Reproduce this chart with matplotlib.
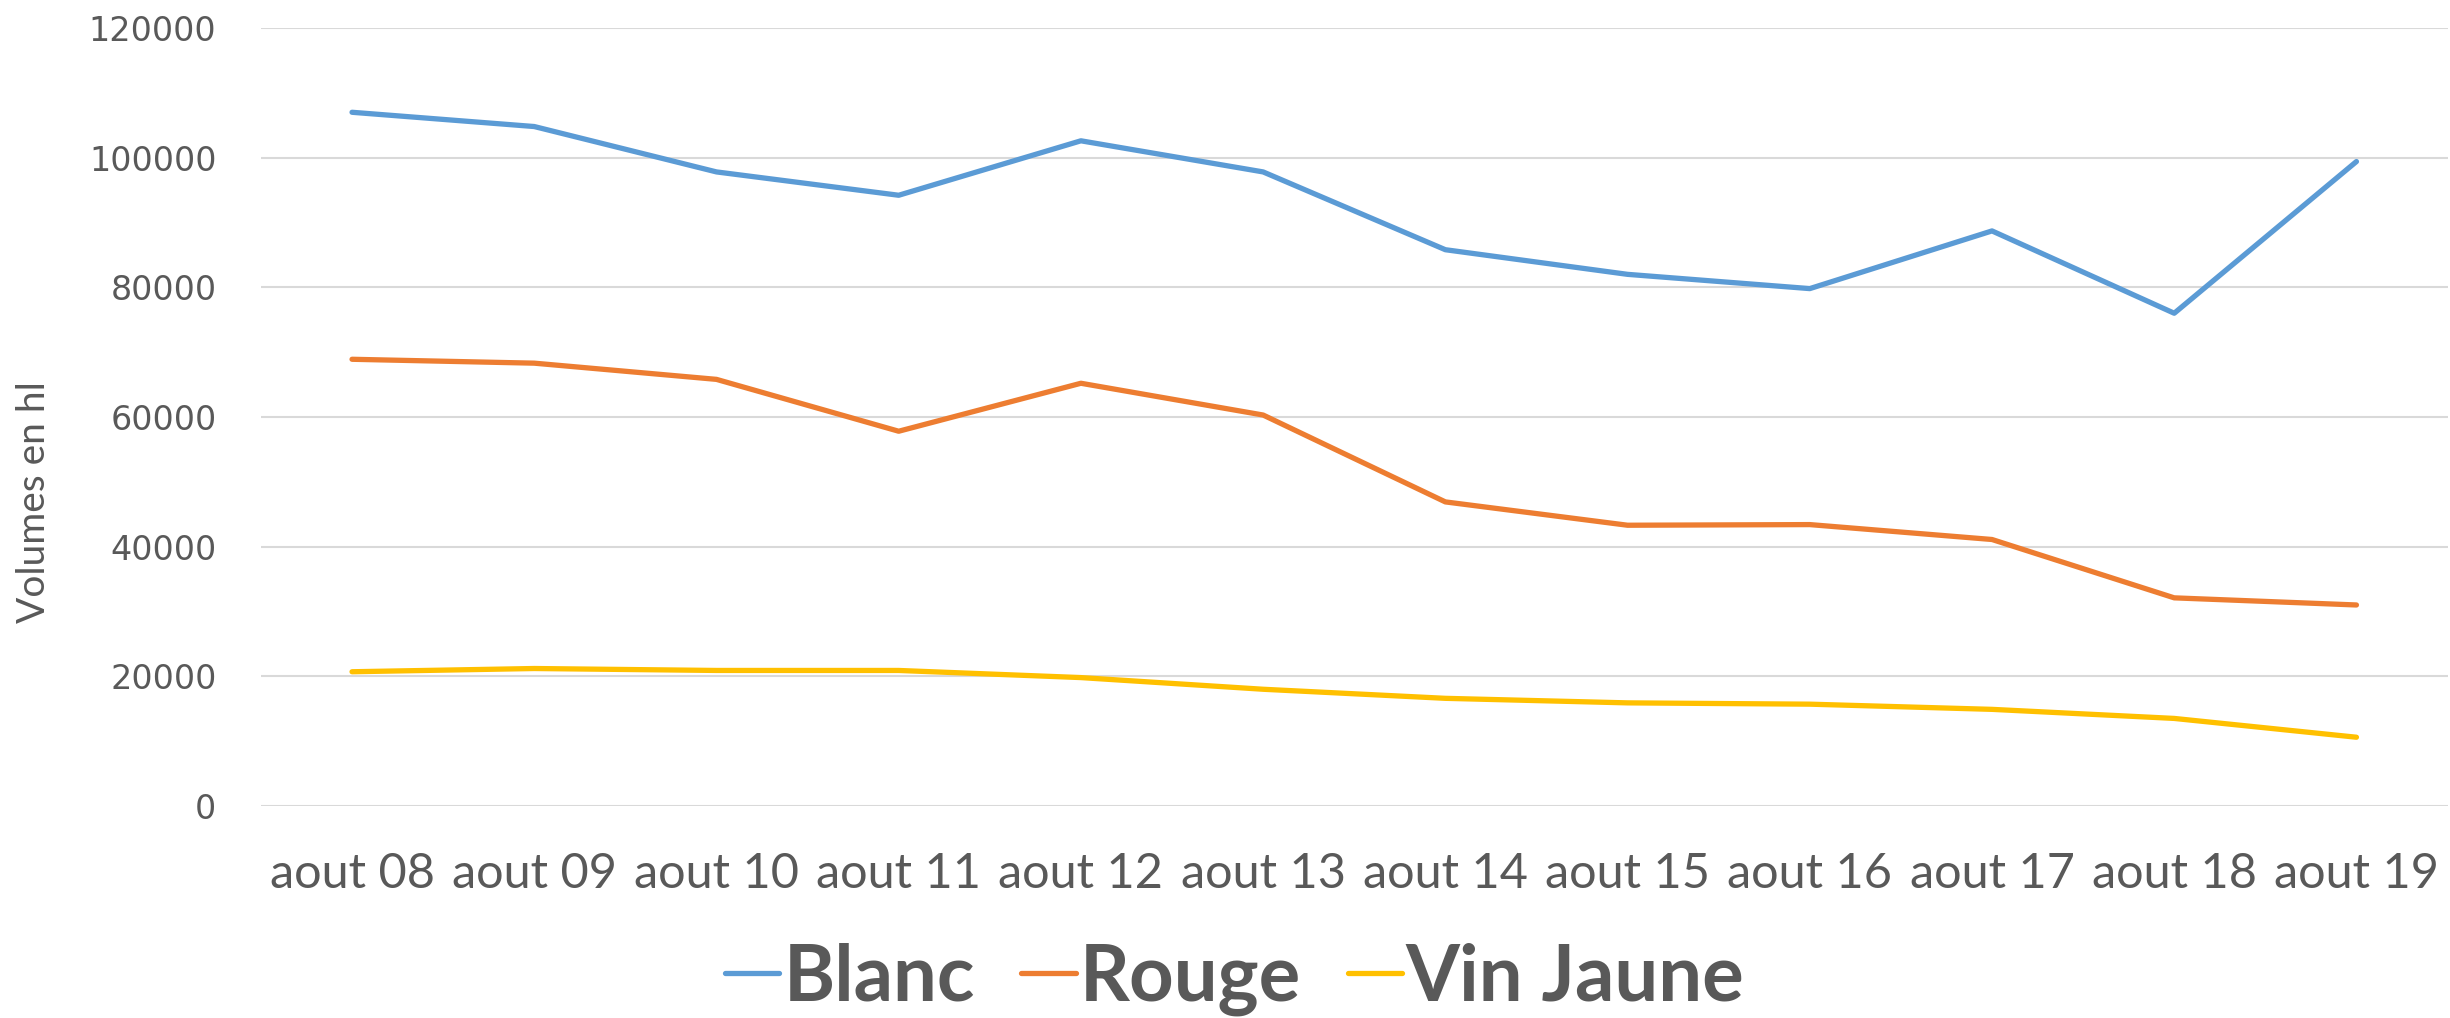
import matplotlib
matplotlib.use("Agg")
import matplotlib.pyplot as plt

# data
mois = ['aout 08', 'aout 09', 'aout 10', 'aout 11', 'aout 12', 'aout 13',
        'aout 14', 'aout 15', 'aout 16', 'aout 17', 'aout 18', 'aout 19']
blanc = [107000, 104800, 97800, 94200, 102600, 97800, 85800, 82000, 79800, 88700, 76000, 99400]
rouge = [68900, 68300, 65800, 57800, 65200, 60300, 46900, 43300, 43400, 41100, 32100, 31000]
vin_jaune = [20700, 21200, 20900, 20900, 19800, 18000, 16600, 15900, 15700, 14900, 13500, 10600]
yticks = [0, 20000, 40000, 60000, 80000, 100000, 120000]

gris = '#595959'

fig = plt.figure(figsize=(24.5, 10.18), dpi=100)
ax = fig.add_axes([0.1065, 0.2083, 0.8925, 0.7642])

x = range(len(mois))
ax.plot(x, blanc, color='#5B9BD5', lw=3.8, solid_capstyle='round', label='Blanc')
ax.plot(x, rouge, color='#ED7D31', lw=3.8, solid_capstyle='round', label='Rouge')
ax.plot(x, vin_jaune, color='#FFC000', lw=3.8, solid_capstyle='round', label='Vin Jaune')

ax.set_xlim(-0.5, len(mois) - 0.5)
ax.set_ylim(0, 120000)
ax.set_yticks(yticks)
ax.set_yticklabels([str(v) for v in yticks], fontfamily='DejaVu Sans', fontsize=24, color=gris)
ax.set_xticks(list(x))
ax.set_xticklabels(mois, fontfamily='Lato', fontsize=35, color=gris)
ax.tick_params(axis='both', length=0)
ax.tick_params(axis='y', pad=32)
ax.tick_params(axis='x', pad=33)
ax.grid(axis='y', color='#D9D9D9', lw=1.5)
ax.set_axisbelow(True)
for s in ax.spines.values():
    s.set_visible(False)

ax.set_ylabel('Volumes en hl', fontfamily='Lato', fontsize=28, color=gris)
ax.yaxis.set_label_coords(-0.0956, 0.39)

leg = fig.legend(loc='center', bbox_to_anchor=(0.504, 0.038), ncol=3, frameon=False,
                 prop={'family': 'Lato', 'weight': 'bold', 'size': 56},
                 handlelength=0.7, handletextpad=0.05, columnspacing=0.6)
for t in leg.get_texts():
    t.set_color(gris)

fig.savefig('out.png', dpi=100)
